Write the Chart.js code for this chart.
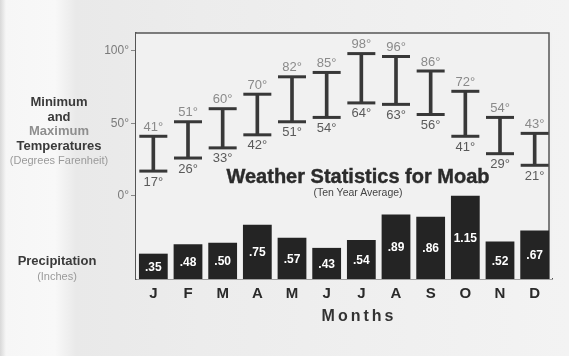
<!DOCTYPE html>
<html>
<head>
<meta charset="utf-8">
<title>Weather Statistics for Moab</title>
<script src="https://cdn.jsdelivr.net/npm/chart.js@4.4.0/dist/chart.umd.min.js"></script>
<style>
html, body { margin: 0; padding: 0; overflow: hidden; }
body {
    width: 569px; height: 356px; position: relative;
    font-family: "Liberation Sans", Arial, sans-serif;
    background: linear-gradient(90deg, #d8d8d8 0, #f6f6f6 6px, #f8f8f8 55px, #e9e9e9 76px, #ececec 200px, #f3f3f3 100%);
}
#grafico { position: absolute; left: 0; top: 0; }
.texto { position: absolute; text-align: center; white-space: nowrap; transform: translateX(-50%); }
.lateral { font-weight: bold; font-size: 13px; line-height: 14.5px; color: #3a3a3a; }
.lateral .gris { color: #8e8e8e; }
.lateral small { display: block; font-weight: normal; font-size: 11px; color: #9a9a9a; }
#titulo { font-weight: bold; font-size: 20px; color: #2b2b2b; -webkit-text-stroke: 0.4px #2b2b2b; }
#subtitulo { font-size: 10.5px; color: #444; }
#meses { font-weight: bold; font-size: 16px; letter-spacing: 3px; color: #333; }
</style>
</head>
<body>
<canvas id="grafico" width="569" height="356"></canvas>

<div class="texto lateral" style="left:59px; top:95px;">Minimum<br>and<br><span class="gris">Maximum</span><br>Temperatures<small>(Degrees Farenheit)</small></div>
<div class="texto lateral" style="left:57px; top:254px;">Precipitation<small>(Inches)</small></div>
<div class="texto" id="titulo" style="left:358px; top:165px;">Weather Statistics for Moab</div>
<div class="texto" id="subtitulo" style="left:358px; top:186px;">(Ten Year Average)</div>
<div class="texto" id="meses" style="left:359px; top:307px;">Months</div>

<script>
const meses = ['J', 'F', 'M', 'A', 'M', 'J', 'J', 'A', 'S', 'O', 'N', 'D'];
const maximas = [41, 51, 60, 70, 82, 85, 98, 96, 86, 72, 54, 43];
const minimas = [17, 26, 33, 42, 51, 54, 64, 63, 56, 41, 29, 21];
const lluvia = [0.35, 0.48, 0.50, 0.75, 0.57, 0.43, 0.54, 0.89, 0.86, 1.15, 0.52, 0.67];
const ticksTemp = [0, 50, 100];

const colorBarra = '#242424';
const colorRango = '#383838';

// rango min-max de cada mes para las barras flotantes
const rangos = minimas.map((v, i) => [v, maximas[i]]);

// ".35" en vez de "0.35"
function formatoLluvia(v) {
    return v.toFixed(2).replace(/^0/, '');
}

/* 
    Fondo del area, marco superior/derecho y etiquetas de valores
*/
const marco = {
    id: 'marco',
    beforeDatasetsDraw(chart) {
        const { ctx, chartArea: a } = chart;
        ctx.save();
        ctx.fillStyle = '#f1f1f1';
        ctx.fillRect(a.left, a.top, a.right - a.left, a.bottom - a.top);
        ctx.strokeStyle = '#555';
        ctx.lineWidth = 1.5;
        ctx.beginPath();
        ctx.moveTo(a.left, a.top);
        ctx.lineTo(a.right - 3, a.top);
        ctx.lineTo(a.right - 3, a.bottom);
        ctx.stroke();
        ctx.restore();
    },
    afterDatasetsDraw(chart) {
        const ctx = chart.ctx;
        ctx.save();
        ctx.textAlign = 'center';
        ctx.textBaseline = 'middle';

        ctx.font = 'bold 12px "Liberation Sans", Arial, sans-serif';
        ctx.fillStyle = '#ffffff';
        chart.getDatasetMeta(0).data.forEach((barra, i) => {
            ctx.fillText(formatoLluvia(lluvia[i]), barra.x, (barra.y + barra.base) / 2 + 1);
        });

        ctx.font = '13px "Liberation Sans", Arial, sans-serif';
        ctx.fillStyle = '#8a8a8a';
        chart.getDatasetMeta(2).data.forEach((p, i) => {
            ctx.fillText(maximas[i] + '°', p.x, p.y - 9);
        });
        ctx.fillStyle = '#5a5a5a';
        chart.getDatasetMeta(3).data.forEach((p, i) => {
            ctx.fillText(minimas[i] + '°', p.x, p.y + 11);
        });
        ctx.restore();
    }
};

const ctx = document.getElementById('grafico').getContext('2d');
const grafico = new Chart(ctx, {
    type: 'bar',
    data: {
        labels: meses,
        datasets: [{
            label: 'Precipitation',
            data: lluvia,
            yAxisID: 'y2',
            backgroundColor: colorBarra,
            categoryPercentage: 1,
            barPercentage: 0.83,
            grouped: false,
            order: 2
        }, {
            label: 'Temperatures',
            data: rangos,
            yAxisID: 'y',
            backgroundColor: colorRango,
            barThickness: 3,
            grouped: false,
            order: 1
        }, {
            type: 'line',
            label: 'Maximum',
            data: maximas,
            yAxisID: 'y',
            showLine: false,
            pointStyle: 'line',
            pointRadius: 14,
            pointHoverRadius: 14,
            borderColor: colorRango,
            borderWidth: 3,
            order: 0
        }, {
            type: 'line',
            label: 'Minimum',
            data: minimas,
            yAxisID: 'y',
            showLine: false,
            pointStyle: 'line',
            pointRadius: 14,
            pointHoverRadius: 14,
            borderColor: colorRango,
            borderWidth: 3,
            order: 0
        }]
    },
    options: {
        responsive: false,
        animation: false,
        layout: { padding: { top: 33, right: 0, left: 0, bottom: 0 } },
        plugins: {
            legend: { display: false },
            tooltip: { enabled: false }
        },
        scales: {
            x: {
                offset: true,
                grid: { display: false },
                border: { display: true, color: '#555', width: 1.5 },
                ticks: {
                    color: '#2a2a2a',
                    padding: -2,
                    font: { family: '"Liberation Sans", Arial, sans-serif', size: 15, weight: 'bold' }
                },
                afterFit: (scale) => { scale.height = 77; }
            },
            y: {
                position: 'left',
                min: -57.4,
                max: 112.2,
                afterBuildTicks: (scale) => {
                    scale.ticks = ticksTemp.map(v => ({ value: v }));
                },
                grid: { drawOnChartArea: false, tickLength: 5, color: '#888', lineWidth: 1 },
                border: { display: true, color: '#555', width: 1.5 },
                ticks: {
                    color: '#7a7a7a',
                    padding: 2,
                    font: { family: '"Liberation Sans", Arial, sans-serif', size: 12 },
                    callback: (v) => v + '°'
                },
                afterFit: (scale) => { scale.width = 136; }
            },
            y2: {
                display: false,
                min: 0,
                max: 3.4
            }
        }
    },
    plugins: [marco]
});
</script>
</body>
</html>
